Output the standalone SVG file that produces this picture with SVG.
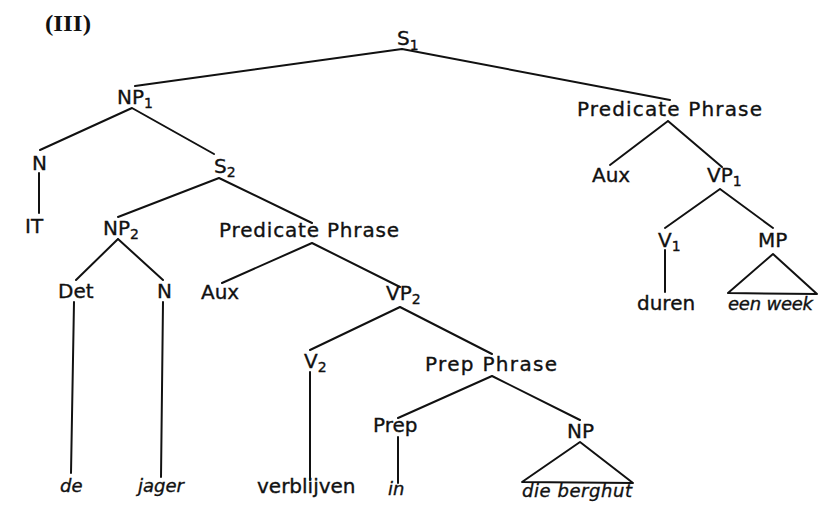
<svg xmlns="http://www.w3.org/2000/svg" width="820" height="505" viewBox="0 0 820 505">
<style>
.l{font-family:"DejaVu Sans","Liberation Sans",sans-serif;font-size:20px;fill:#111;stroke:#111;stroke-width:0.35}
.w{font-family:"DejaVu Sans","Liberation Sans",sans-serif;font-size:18px;font-style:italic;fill:#111;stroke:#111;stroke-width:0.35}
.sub{font-size:14px}
.e{stroke:#111;stroke-width:2;fill:none;stroke-linecap:round;stroke-linejoin:round}
</style>
<rect width="820" height="505" fill="#fff"/>
<text x="45" y="31" font-family="'Liberation Serif',serif" font-weight="bold" font-size="24" textLength="46" lengthAdjust="spacingAndGlyphs" fill="#111">(III)</text>
<g id="edges" class="e">
<path d="M402,49L135,86M402,49L670,100"/>
<path d="M132,108L40,150M132,108L214,154"/>
<path d="M39,173L39,213"/>
<path d="M219,178L118,217M219,178L312,223"/>
<path d="M118,239L76,280M118,239L163,280"/>
<path d="M312,243L222,283M312,243L400,287"/>
<path d="M74,302L71,473M163,302L161,477"/>
<path d="M400,307L310,350M400,307L492,354"/>
<path d="M310,372L310,480"/>
<path d="M492,376L398,418M492,376L580,420"/>
<path d="M398,437L398,483"/>
<path d="M580,442L522,482L633,483Z"/>
<path d="M668,121L610,165M668,121L722,167"/>
<path d="M720,189L665,228M720,189L773,228"/>
<path d="M665,250L665,292"/>
<path d="M773,254L728,293L817,294Z"/>
</g>
<g id="S1"><text class="l" x="397" y="45">S<tspan class="sub" dy="5">1</tspan></text></g>
<g id="NP1"><text class="l" x="117" y="104">NP<tspan class="sub" dy="4">1</tspan></text></g>
<g id="PredPhrase1"><text class="l" x="577" y="116" textLength="185">Predicate Phrase</text></g>
<g id="N1"><text class="l" x="32" y="170">N</text></g>
<g id="S2"><text class="l" x="214" y="173">S<tspan class="sub" dy="4">2</tspan></text></g>
<g id="IT"><text class="l" x="25" y="233">IT</text></g>
<g id="NP2"><text class="l" x="103" y="235">NP<tspan class="sub" dy="4">2</tspan></text></g>
<g id="PredPhrase2"><text class="l" x="219" y="237" textLength="180">Predicate Phrase</text></g>
<g id="Det"><text class="l" x="58" y="298">Det</text></g>
<g id="N2"><text class="l" x="157" y="298">N</text></g>
<g id="Aux2"><text class="l" x="201" y="299">Aux</text></g>
<g id="VP2"><text class="l" x="386" y="300">VP<tspan class="sub" dy="4">2</tspan></text></g>
<g id="V2"><text class="l" x="304" y="368">V<tspan class="sub" dy="4">2</tspan></text></g>
<g id="PrepPhrase"><text class="l" x="425" y="371" textLength="132">Prep Phrase</text></g>
<g id="Prep"><text class="l" x="373" y="432">Prep</text></g>
<g id="NP3"><text class="l" x="567" y="438">NP</text></g>
<g id="de"><text class="w" x="60" y="492">de</text></g>
<g id="jager"><text class="w" x="138" y="492">jager</text></g>
<g id="verblijven"><text class="l" x="257" y="493">verblijven</text></g>
<g id="in"><text class="w" x="388" y="495">in</text></g>
<g id="dieberghut"><text class="w" x="522" y="497" textLength="110">die berghut</text></g>
<g id="Aux1"><text class="l" x="592" y="182">Aux</text></g>
<g id="VP1"><text class="l" x="707" y="182">VP<tspan class="sub" dy="4">1</tspan></text></g>
<g id="V1"><text class="l" x="658" y="247">V<tspan class="sub" dy="4">1</tspan></text></g>
<g id="MP"><text class="l" x="758" y="247">MP</text></g>
<g id="duren"><text class="l" x="637" y="310">duren</text></g>
<g id="eenweek"><text class="w" x="728" y="310" textLength="85">een week</text></g>
</svg>
